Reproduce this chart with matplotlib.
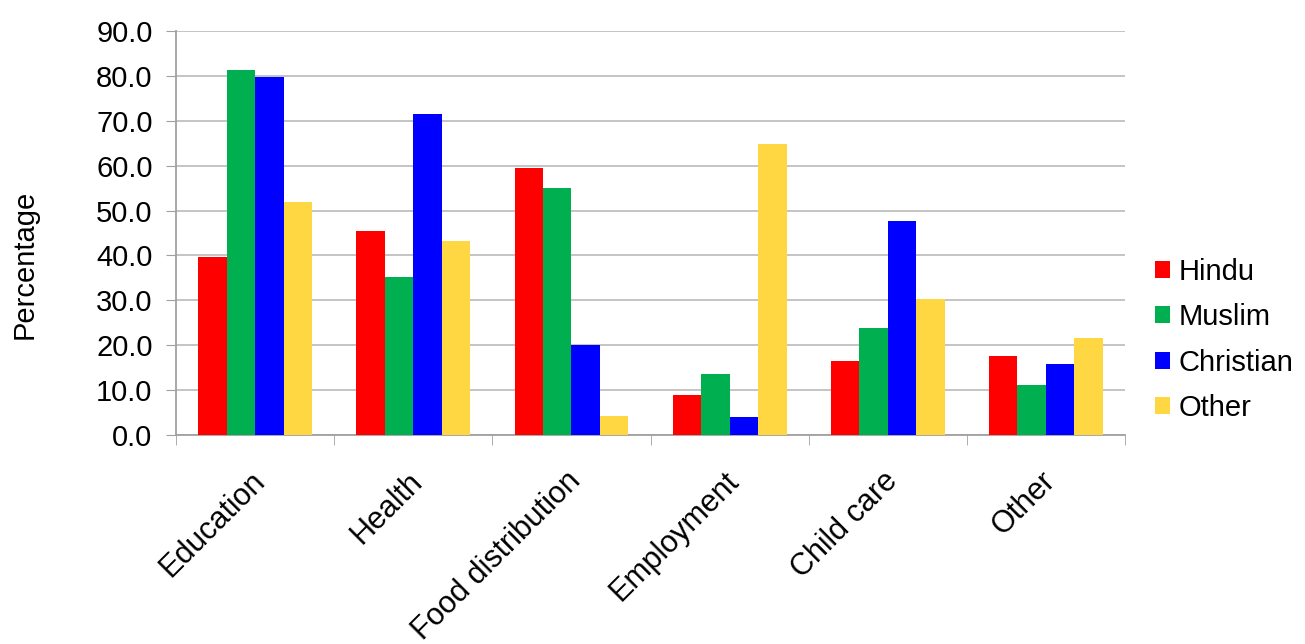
import matplotlib.pyplot as plt
import matplotlib.transforms as mtransforms
import numpy as np

plt.rcParams['font.family'] = ['Liberation Sans', 'DejaVu Sans']

# Kategorie a hodnoty
categories = ['Education', 'Health', 'Food distribution', 'Employment', 'Child care', 'Other']
hindu = [39.6, 45.4, 59.5, 8.9, 16.5, 17.6]
muslim = [81.3, 35.2, 55.0, 13.6, 23.8, 11.1]
christian = [79.7, 71.5, 20.0, 4.0, 47.7, 15.8]
other = [51.9, 43.2, 4.2, 64.8, 30.3, 21.6]

series = [hindu, muslim, christian, other]
labels = ['Hindu', 'Muslim', 'Christian', 'Other']
colors = ['#FF0000', '#00B050', '#0000FF', '#FFD743']

fig = plt.figure(figsize=(13.05, 6.44), dpi=100)
ax = fig.add_axes([0.135, 0.3245, 0.727, 0.6275])

x = np.arange(len(categories))
w = 0.18
for i, vals in enumerate(series):
    ax.bar(x + (i - 1.5) * w, vals, width=w, color=colors[i], label=labels[i], zorder=3)

ax.set_xlim(-0.5, len(categories) - 0.5)
ax.set_ylim(0, 90)
ax.set_yticks(np.arange(0, 91, 10))
ax.set_yticklabels([f'{v:.1f}' for v in np.arange(0, 91, 10)], fontsize=21)
ax.yaxis.grid(True, color='#BFBFBF', linewidth=1.3, zorder=0)

ax.set_xticks(x)
ax.set_xticklabels(categories, rotation=45, ha='right', va='center',
                   rotation_mode='anchor', fontsize=22)
ax.tick_params(axis='x', length=0, pad=30)
# posun popisků kategorií trochu doprava
shift = mtransforms.ScaledTranslation(5 / 100, 0, fig.dpi_scale_trans)
for lab in ax.get_xticklabels():
    lab.set_transform(lab.get_transform() + shift)
ax.set_xticks(np.arange(-0.5, len(categories)), minor=True)
ax.tick_params(axis='x', which='minor', length=7, color='#A0A0A0')
ax.tick_params(axis='y', length=7, color='#A0A0A0', pad=10)

for s in ['top', 'right']:
    ax.spines[s].set_visible(False)
for s in ['left', 'bottom']:
    ax.spines[s].set_color('#A0A0A0')
    ax.spines[s].set_linewidth(1.3)

fig.text(0.019, 0.59, 'Percentage', rotation=90, va='center', ha='center', fontsize=21)

ax.legend(loc='center left', bbox_to_anchor=(0.885, 0.472), bbox_transform=fig.transFigure,
          frameon=False, fontsize=21, borderpad=0, borderaxespad=0,
          handlelength=0.52, handleheight=0.52, handletextpad=0.3, labelspacing=0.6)

plt.savefig('out.png')
